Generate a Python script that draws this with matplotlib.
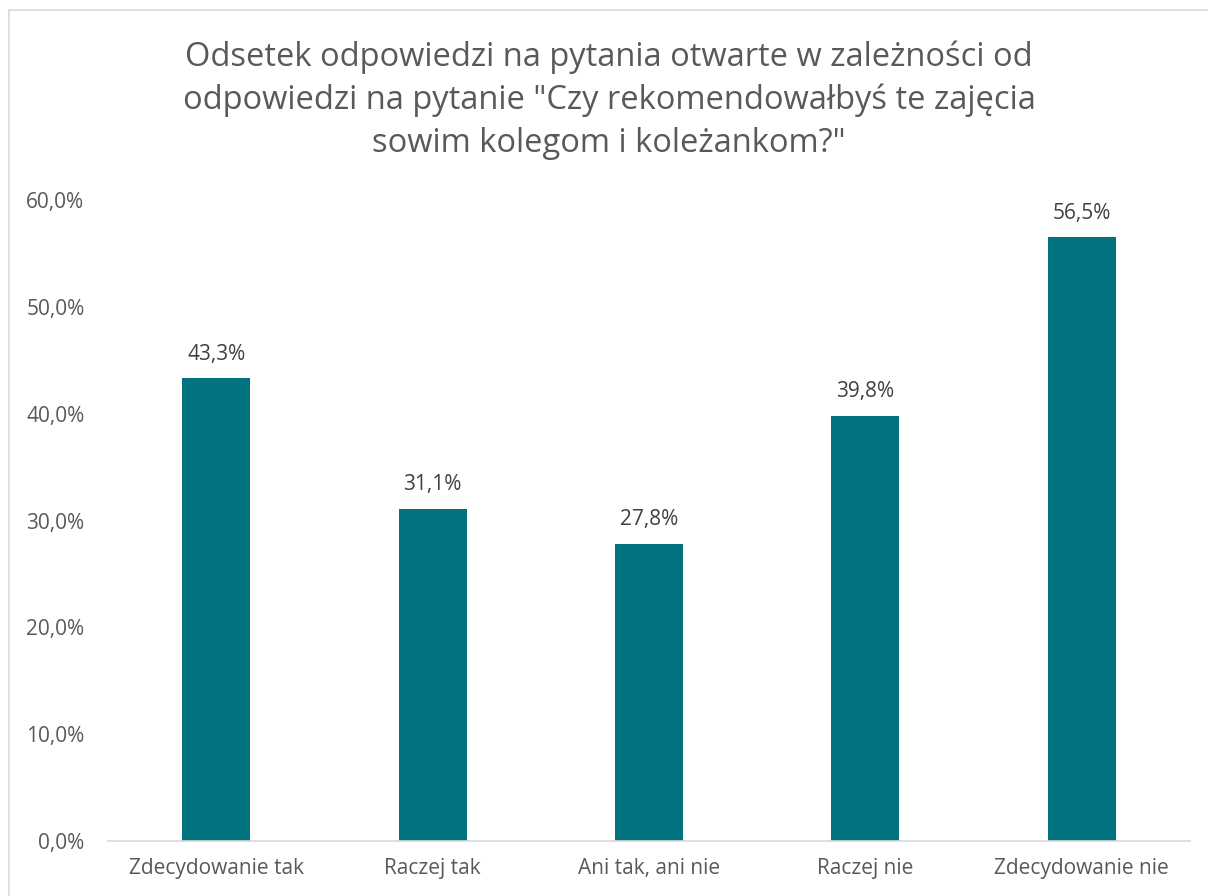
import matplotlib
matplotlib.use("Agg")
import matplotlib.pyplot as plt
from matplotlib.patches import Rectangle

categories = ["Zdecydowanie tak", "Raczej tak", "Ani tak, ani nie", "Raczej nie", "Zdecydowanie nie"]
values = [43.3, 31.1, 27.8, 39.8, 56.5]
yticks = [0, 10, 20, 30, 40, 50, 60]
title = 'Odsetek odpowiedzi na pytania otwarte w zależności od\nodpowiedzi na pytanie "Czy rekomendowałbyś te zajęcia\nsowim kolegom i koleżankom?"'

plt.rcParams['font.family'] = ['Open Sans', 'DejaVu Sans']

W, H = 1208, 896
fig = plt.figure(figsize=(W / 100, H / 100), dpi=100)
fig.patch.set_facecolor('white')
fig.patches.append(Rectangle((9 / W, -0.1), 1.2, 1 - 10 / H + 0.1, transform=fig.transFigure,
                             fill=False, edgecolor='#d9d9d9', linewidth=1.2))

ax = fig.add_axes([108 / W, 1 - 841 / H, (1190 - 108) / W, (841 - 200) / H])
x = range(len(categories))
bars = ax.bar(x, values, width=0.315, color='#00737e')
ax.set_xlim(-0.5, len(categories) - 0.5)
ax.set_ylim(0, 60)
ax.set_yticks(yticks)
ax.set_yticklabels([f"{v:.1f}".replace('.', ',') + "%" for v in yticks])
ax.set_xticks(list(x))
ax.set_xticklabels(categories)
for s in ['top', 'right', 'left']:
    ax.spines[s].set_visible(False)
ax.spines['bottom'].set_color('#d9d9d9')
ax.spines['bottom'].set_linewidth(1.2)
ax.tick_params(axis='both', length=0, labelsize=15, colors='#595959')
ax.tick_params(axis='y', pad=17)
ax.tick_params(axis='x', pad=12)

for xi, v in zip(x, values):
    ax.annotate(f"{v:.1f}".replace('.', ',') + "%", (xi, v), xytext=(0, 10),
                textcoords='offset points', ha='center', va='bottom', fontsize=15, color='#404040')

fig.text(0.5 + 5 / W, 1 - 100 / H, title, ha='center', va='center', fontsize=23.5,
         color='#595959', linespacing=1.38)

fig.savefig('out.png', dpi=100)
